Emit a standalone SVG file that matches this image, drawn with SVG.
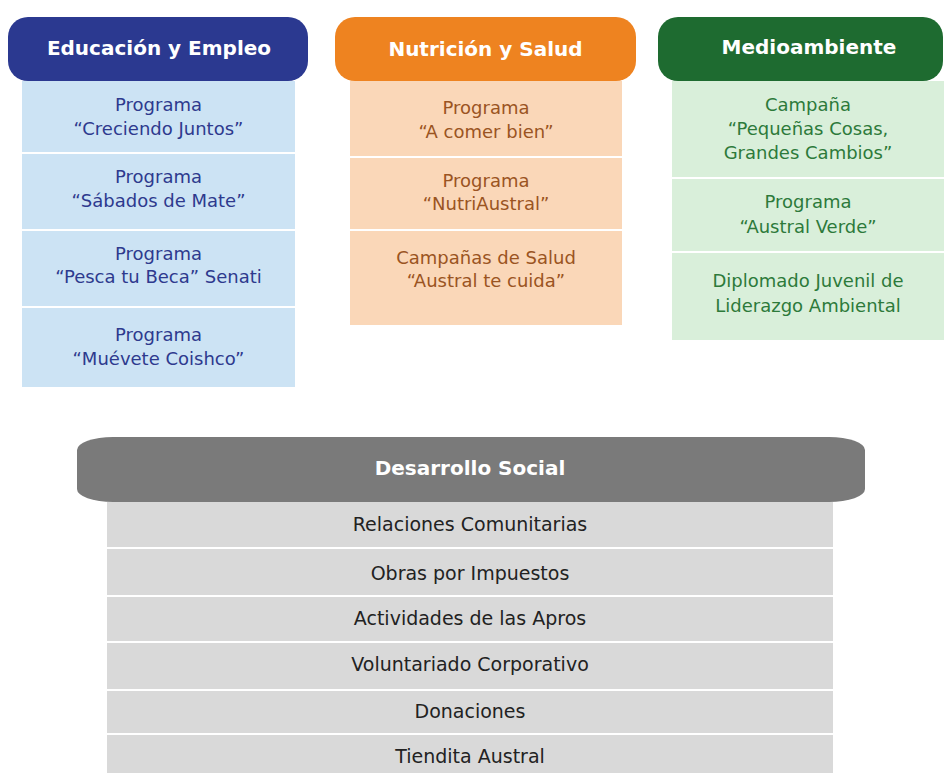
<svg xmlns="http://www.w3.org/2000/svg" width="944" height="773" viewBox="0 0 944 773">
<style>
.h{font-family:"DejaVu Sans",Verdana,sans-serif;font-weight:bold;font-size:20px;fill:#fff;text-anchor:middle}
.t{font-family:"DejaVu Sans",Verdana,sans-serif;font-size:18px;text-anchor:middle}
.bt{fill:#2E3A8E}.ot{fill:#9A5422}.gt{fill:#2D7A3A}.kt{fill:#222;font-size:19px}
.bc{fill:#CCE3F4}.oc{fill:#FAD7B8}.gc{fill:#D9EFDA}.kc{fill:#D9D9D9}
</style>
<rect width="944" height="773" fill="#fff"/>
<g id="educacion">
<rect x="8" y="17" width="300" height="64" rx="20" fill="#2B3990"/>
<text class="h" x="159" y="55">Educación y Empleo</text>
<rect class="bc" x="22" y="81" width="273" height="71"/>
<rect class="bc" x="22" y="154" width="273" height="75"/>
<rect class="bc" x="22" y="231" width="273" height="75"/>
<rect class="bc" x="22" y="308" width="273" height="79"/>
<text class="t bt" x="158.5" y="111">Programa</text>
<text class="t bt" x="158.5" y="135">“Creciendo Juntos”</text>
<text class="t bt" x="158.5" y="183">Programa</text>
<text class="t bt" x="158.5" y="207">“Sábados de Mate”</text>
<text class="t bt" x="158.5" y="260">Programa</text>
<text class="t bt" x="158.5" y="283">“Pesca tu Beca” Senati</text>
<text class="t bt" x="158.5" y="341">Programa</text>
<text class="t bt" x="158.5" y="365">“Muévete Coishco”</text>
</g>
<g id="nutricion">
<rect x="335" y="17" width="301" height="64" rx="20" fill="#EE8320"/>
<text class="h" x="485.5" y="56">Nutrición y Salud</text>
<rect class="oc" x="350" y="81" width="272" height="75"/>
<rect class="oc" x="350" y="158" width="272" height="71"/>
<rect class="oc" x="350" y="231" width="272" height="94"/>
<text class="t ot" x="486" y="114">Programa</text>
<text class="t ot" x="486" y="138">“A comer bien”</text>
<text class="t ot" x="486" y="187">Programa</text>
<text class="t ot" x="486" y="210">“NutriAustral”</text>
<text class="t ot" x="486" y="264">Campañas de Salud</text>
<text class="t ot" x="486" y="287">“Austral te cuida”</text>
</g>
<g id="medioambiente">
<rect x="658" y="17" width="285" height="64" rx="20" fill="#1E6B30"/>
<text class="h" x="809" y="54">Medioambiente</text>
<rect class="gc" x="672" y="81" width="272" height="96"/>
<rect class="gc" x="672" y="179" width="272" height="72"/>
<rect class="gc" x="672" y="253" width="272" height="87"/>
<text class="t gt" x="808" y="111">Campaña</text>
<text class="t gt" x="808" y="135">“Pequeñas Cosas,</text>
<text class="t gt" x="808" y="159">Grandes Cambios”</text>
<text class="t gt" x="808" y="208">Programa</text>
<text class="t gt" x="808" y="233">“Austral Verde”</text>
<text class="t gt" x="808" y="287">Diplomado Juvenil de</text>
<text class="t gt" x="808" y="312">Liderazgo Ambiental</text>
</g>
<g id="desarrollo">
<rect x="77" y="437" width="788" height="65" rx="36" ry="13" fill="#7A7A7A"/>
<text class="h" x="470" y="475">Desarrollo Social</text>
<rect class="kc" x="107" y="502" width="726" height="45"/>
<rect class="kc" x="107" y="549" width="726" height="46"/>
<rect class="kc" x="107" y="597" width="726" height="44"/>
<rect class="kc" x="107" y="643" width="726" height="46"/>
<rect class="kc" x="107" y="691" width="726" height="42"/>
<rect class="kc" x="107" y="735" width="726" height="38"/>
<text class="t kt" x="470" y="531">Relaciones Comunitarias</text>
<text class="t kt" x="470" y="580">Obras por Impuestos</text>
<text class="t kt" x="470" y="625">Actividades de las Apros</text>
<text class="t kt" x="470" y="671">Voluntariado Corporativo</text>
<text class="t kt" x="470" y="718">Donaciones</text>
<text class="t kt" x="470" y="763">Tiendita Austral</text>
</g>
<g id="connectors"></g>
</svg>
